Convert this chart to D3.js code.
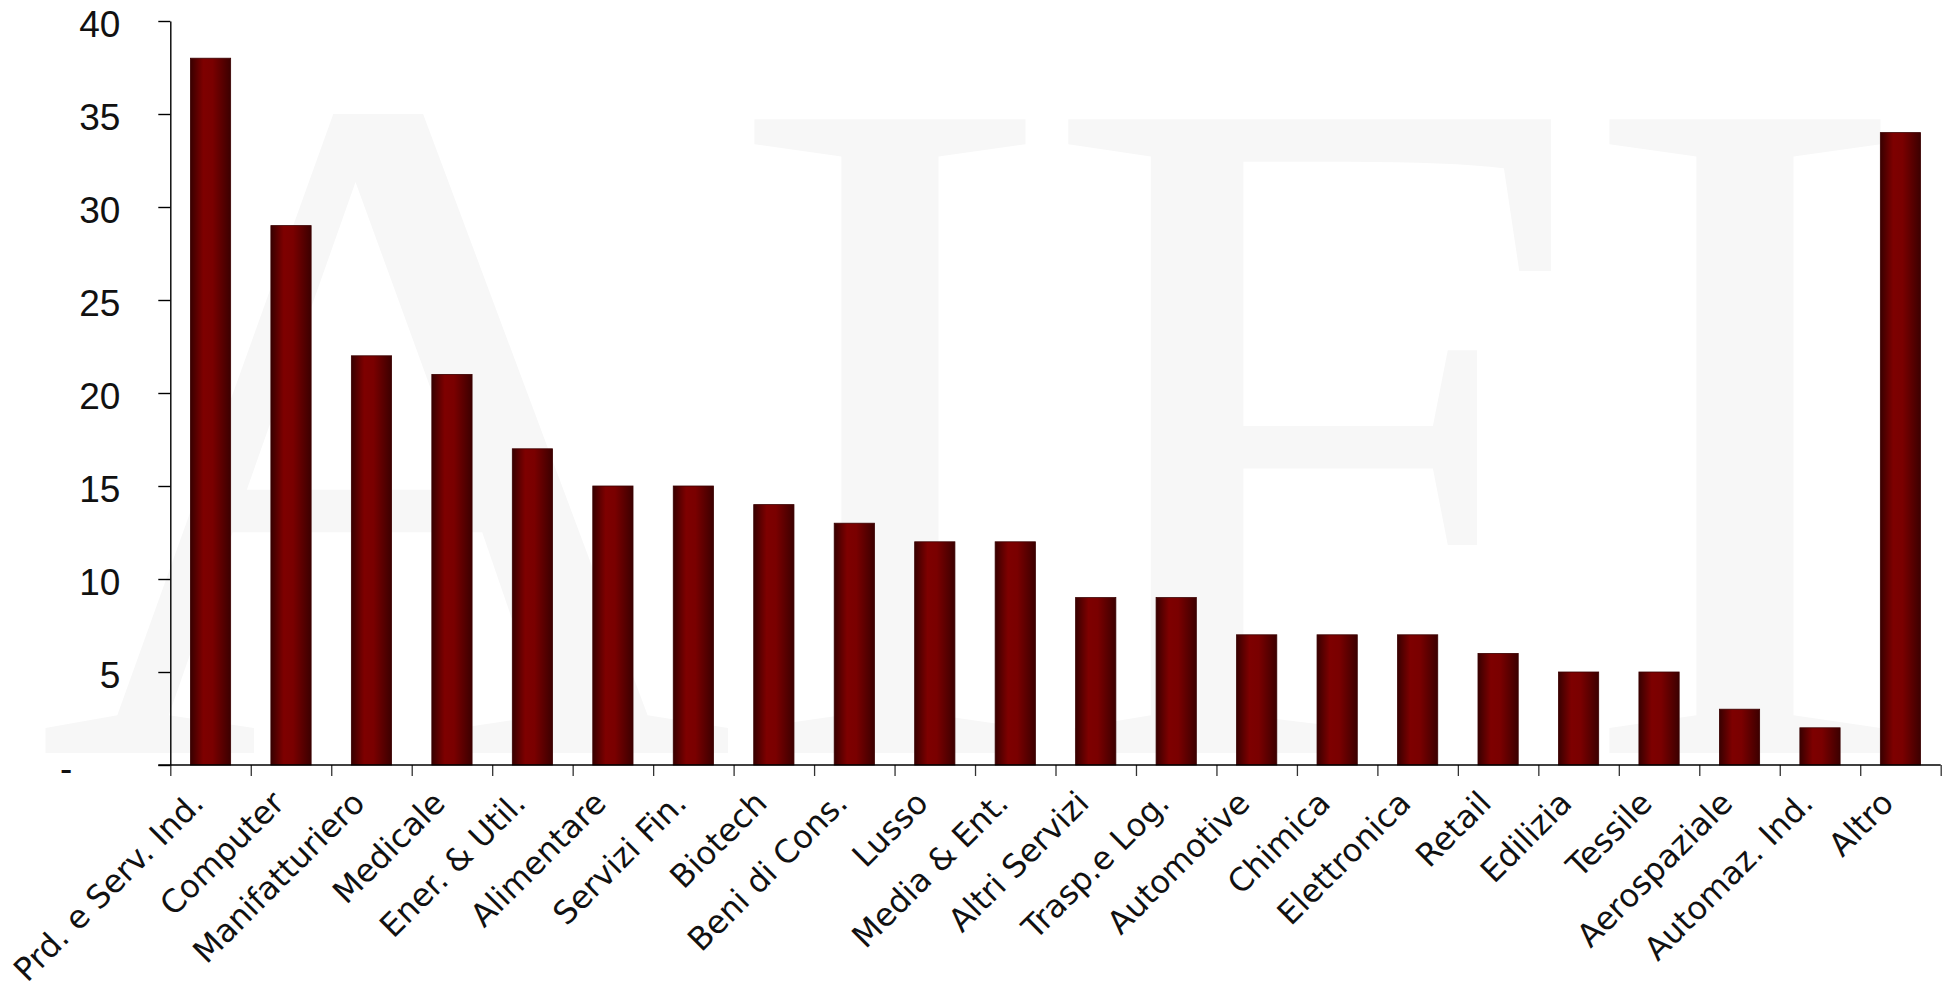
<!DOCTYPE html>
<html>
<head>
<meta charset="utf-8">
<script src="https://cdn.jsdelivr.net/npm/d3@7"></script>
<style>
  html, body { margin: 0; padding: 0; background: #ffffff; }
  svg { display: block; }
</style>
</head>
<body>
<svg id="chart" width="1943" height="984"></svg>
<script>
// ---- data ----
const categories = [
  "Prd. e Serv. Ind.", "Computer", "Manifatturiero", "Medicale", "Ener. & Util.",
  "Alimentare", "Servizi Fin.", "Biotech", "Beni di Cons.", "Lusso",
  "Media & Ent.", "Altri Servizi", "Trasp.e Log.", "Automotive", "Chimica",
  "Elettronica", "Retail", "Edilizia", "Tessile", "Aerospaziale",
  "Automaz. Ind.", "Altro"
];
const values = [38, 29, 22, 21, 17, 15, 15, 14, 13, 12, 12, 9, 9, 7, 7, 7, 6, 5, 5, 3, 2, 34];
const yTickValues = [0, 5, 10, 15, 20, 25, 30, 35, 40];
const yTickLabels = ["-", "5", "10", "15", "20", "25", "30", "35", "40"];
const watermarkLetters = ["A", "I", "F", "I"];

// ---- layout ----
const plotLeft = 170.3, plotRight = 1940.7, plotTop = 21, plotBottom = 765;

const svg = d3.select("#chart");

// gradient for bars
const defs = svg.append("defs");
const grad = defs.append("linearGradient").attr("id", "barGrad")
  .attr("x1", "0%").attr("x2", "100%").attr("y1", "0%").attr("y2", "0%");
[["0%", "#380000"], ["32%", "#7e0000"], ["55%", "#7a0000"], ["100%", "#3c0000"]]
  .forEach(([o, c]) => grad.append("stop").attr("offset", o).attr("stop-color", c));

// watermark "AIFI"
const wm = svg.append("g").attr("class", "watermark")
  .style("font-family", "'Liberation Serif', 'Times New Roman', serif")
  .attr("font-size", 968).attr("fill", "#f7f7f7");
const wmPos = [[36, 1.0], [717, 1.07], [1040, 1.015], [1572, 1.07]];
watermarkLetters.forEach((ch, i) => {
  wm.append("text")
    .attr("transform", `translate(${wmPos[i][0]},753) scale(${wmPos[i][1]},1)`)
    .text(ch);
});

// scales
const x = d3.scaleBand().domain(categories).range([plotLeft, plotRight])
  .paddingInner(0.5).paddingOuter(0.25);
const xEdge = d3.scaleLinear().domain([0, categories.length]).range([plotLeft, plotRight]);
const y = d3.scaleLinear().domain([0, 40]).range([plotBottom, plotTop]);

// bars
svg.append("g").selectAll("rect").data(values).join("rect")
  .attr("x", (d, i) => x(categories[i]))
  .attr("y", d => y(d))
  .attr("width", x.bandwidth())
  .attr("height", d => y(0) - y(d))
  .attr("fill", "url(#barGrad)")
  .attr("stroke", "#3a0000").attr("stroke-width", 0.8);

// y axis
const yAxis = svg.append("g").attr("transform", `translate(${plotLeft},0)`)
  .call(d3.axisLeft(y).tickValues(yTickValues)
    .tickFormat((d, i) => yTickLabels[i])
    .tickSize(12).tickSizeOuter(0).tickPadding(38));
yAxis.select(".domain").attr("stroke", "#000").attr("stroke-width", 1.4);
yAxis.selectAll(".tick line").attr("stroke", "#000").attr("stroke-width", 1.4);
yAxis.selectAll(".tick text")
  .style("font-family", "'Liberation Sans', Arial, sans-serif")
  .attr("font-size", 37).attr("fill", "#111").attr("dy", "0.42em");
yAxis.selectAll(".tick").filter(d => d === 0).select("text").attr("x", -98);

// x axis: boundary ticks
const xAxisTicks = svg.append("g").attr("transform", `translate(0,${plotBottom})`)
  .call(d3.axisBottom(xEdge).tickValues(d3.range(categories.length + 1))
    .tickFormat("").tickSize(11).tickSizeOuter(0));
xAxisTicks.select(".domain").remove();
xAxisTicks.selectAll(".tick line").attr("stroke", "#333").attr("stroke-width", 1.3);

// x axis baseline
svg.append("line").attr("x1", plotLeft - 12).attr("x2", plotRight)
  .attr("y1", y(0)).attr("y2", y(0)).attr("stroke", "#000").attr("stroke-width", 1.4);

// x labels
const xLabels = svg.append("g").attr("transform", `translate(0,${plotBottom})`)
  .call(d3.axisBottom(x).tickSize(0).tickPadding(0));
xLabels.select(".domain").remove();
xLabels.selectAll(".tick text")
  .style("font-family", "'DejaVu Sans', Verdana, sans-serif")
  .attr("font-size", 32).attr("fill", "#111")
  .attr("text-anchor", "end").attr("dy", 0).attr("y", 0)
  .attr("transform", "translate(-5,40) rotate(-45)");
</script>
</body>
</html>
